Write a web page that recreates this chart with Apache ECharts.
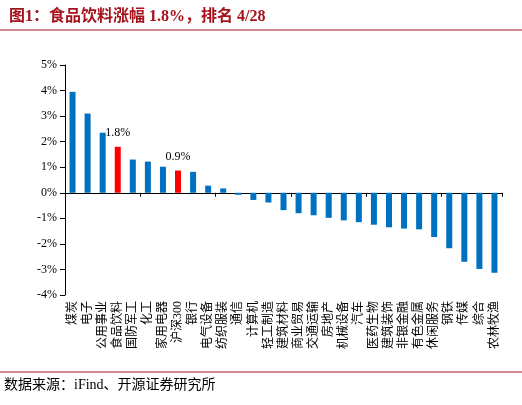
<!DOCTYPE html>
<html><head><meta charset="utf-8">
<script src="https://cdn.jsdelivr.net/npm/echarts@6/dist/echarts.min.js"></script>
<style>body{margin:0}#c{width:522px;height:405px}</style></head>
<body><div id="c"></div>
<script>
var categories = ['煤炭','电子','公用事业','食品饮料','国防军工','化工','家用电器','沪深300','银行','电气设备','纺织服装','通信','计算机','轻工制造','建筑材料','商业贸易','交通运输','房地产','机械设备','汽车','医药生物','建筑装饰','非银金融','有色金属','休闲服务','钢铁','传媒','综合','农林牧渔'];
var values = [3.95,3.1,2.35,1.8,1.3,1.22,1.02,0.87,0.82,0.28,0.17,-0.08,-0.28,-0.38,-0.68,-0.8,-0.88,-0.98,-1.08,-1.15,-1.25,-1.35,-1.4,-1.43,-1.73,-2.17,-2.7,-2.98,-3.13];
var highlight = {'食品饮料':'1.8%','沪深300':'0.9%'};

var chart = echarts.init(document.getElementById('c'));
var serif = '"Liberation Serif","Noto Sans CJK SC",serif';

chart.setOption({
  animation: false,
  title: {
    text: '图1：食品饮料涨幅 1.8%，排名 4/28',
    left: 4, top: 4,
    textStyle: {fontSize: 16, fontWeight: 'bold', color: '#A5121B', fontFamily: serif}
  },
  graphic: [
    {type: 'line', shape: {x1: 0, y1: 30, x2: 522, y2: 30}, style: {stroke: '#A5121B', lineWidth: 1}},
    {type: 'line', shape: {x1: 0, y1: 372, x2: 522, y2: 372}, style: {stroke: '#A5121B', lineWidth: 1}},
    {type: 'text', left: 4, top: 378, style: {text: '数据来源：iFind、开源证券研究所', fontSize: 14, fill: '#000', fontFamily: serif}}
  ],
  grid: {left: 65, right: 20, top: 65, bottom: 110},
  xAxis: [{
    type: 'category', data: categories,
    axisLine: {onZero: true, lineStyle: {color: '#000'}},
    axisTick: {show: true, inside: false, length: 4, lineStyle: {color: '#000'}},
    axisLabel: {show: false}
  }, {
    type: 'category', data: categories, position: 'bottom',
    axisLine: {show: false}, axisTick: {show: false},
    axisLabel: {interval: 0, rotate: 90, margin: 6, fontSize: 12, color: '#000', fontFamily: serif}
  }],
  yAxis: {
    type: 'value', min: -4, max: 5, interval: 1,
    splitLine: {show: false},
    axisLine: {show: true, lineStyle: {color: '#000'}},
    axisTick: {show: true, lineStyle: {color: '#000'}},
    axisLabel: {formatter: '{value}%', fontSize: 12, color: '#000', fontFamily: serif}
  },
  series: [{
    type: 'bar', barWidth: 6,
    data: values.map(function (v, i) {
      var n = categories[i];
      var d = {value: v, itemStyle: {color: highlight[n] ? '#FF0000' : '#0070C0'}};
      if (highlight[n]) d.label = {show: true, position: 'top', formatter: highlight[n],
        fontSize: 12, color: '#000', fontFamily: serif, distance: 8};
      return d;
    })
  }]
});
</script></body></html>
